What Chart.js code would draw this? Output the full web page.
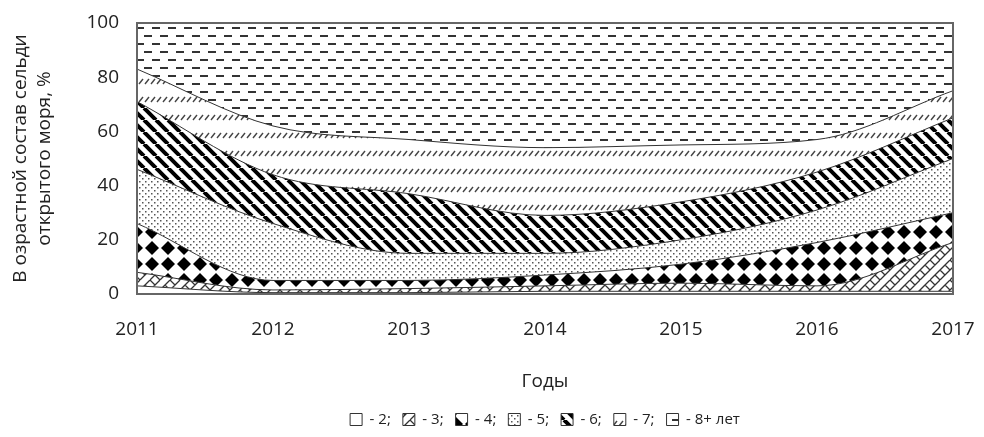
<!DOCTYPE html>
<html>
<head>
<meta charset="utf-8">
<script src="https://cdn.jsdelivr.net/npm/chart.js@4.4.1/dist/chart.umd.min.js"></script>
<style>
  body { margin: 0; background: #fff; }
  #wrap { width: 984px; height: 437px; }
</style>
</head>
<body>
<div id="wrap"><canvas id="chart"></canvas></div>
<script>
const years = ['2011', '2012', '2013', '2014', '2015', '2016', '2017']
const yTicks = [0, 20, 40, 60, 80, 100]
// доля возрастных групп, %
const age2 = [3, 0.5, 0.5, 1, 1, 1, 1]
const age3 = [5, 1, 1.5, 2, 3, 2, 18]
const age4 = [18, 3.5, 3, 4, 7, 16, 11]
const age5 = [20, 21, 10, 8, 9, 12, 20]
const age6 = [25, 18, 22, 14, 14, 14, 15]
const age7 = [12, 18, 20, 25, 21, 12, 10]
const age8 = [17, 38, 43, 46, 45, 43, 25]
const labels = ['- 2;', '- 3;', '- 4;', '- 5;', '- 6;', '- 7;', '- 8+ лет']

function makePattern(w, h, draw) {
  const c = document.createElement('canvas')
  c.width = w
  c.height = h
  const g = c.getContext('2d')
  g.fillStyle = '#fff'
  g.fillRect(0, 0, w, h)
  draw(g)
  return g.createPattern(c, 'repeat')
}

const pBricks = makePattern(20, 20, g => {
  g.strokeStyle = '#333'
  g.lineWidth = 1.3
  g.beginPath()
  for (let k = -1; k <= 3; k++) {
    g.moveTo(k * 10 - 20, 20)
    g.lineTo(k * 10, 0)
  }
  g.moveTo(5, 5); g.lineTo(10, 10)
  g.moveTo(15, 15); g.lineTo(20, 20)
  g.moveTo(0, 0); g.lineTo(-5, -5)
  g.moveTo(15, -5); g.lineTo(20, 0)
  g.moveTo(0, 10); g.lineTo(5, 15)
  g.moveTo(10, 0); g.lineTo(15, 5)
  g.stroke()
})

const pDiamonds = makePattern(16, 16, g => {
  g.fillStyle = '#000'
  g.beginPath()
  g.moveTo(8, 1); g.lineTo(15, 8); g.lineTo(8, 15); g.lineTo(1, 8)
  g.closePath()
  g.fill()
})

const pDots = makePattern(6, 6, g => {
  g.fillStyle = '#555'
  g.fillRect(1, 1, 1.5, 1.5)
  g.fillRect(4, 4, 1.5, 1.5)
})

const pStripes = makePattern(12, 12, g => {
  g.strokeStyle = '#000'
  g.lineWidth = 4
  g.beginPath()
  for (let k = -1; k <= 1; k++) {
    g.moveTo(k * 12, 0)
    g.lineTo(k * 12 + 12, 12)
  }
  g.stroke()
})

const pSlashes = makePattern(6, 18, g => {
  g.strokeStyle = '#444'
  g.lineWidth = 1.4
  g.beginPath()
  g.moveTo(1, 12)
  g.lineTo(5, 7)
  g.stroke()
})

const pDashes = makePattern(16, 16, g => {
  g.fillStyle = '#333'
  g.fillRect(0, 3, 8, 2)
  g.fillRect(8, 11, 8, 2)
})

const series = [age2, age3, age4, age5, age6, age7, age8]
const fills = ['#fff', pBricks, pDiamonds, pDots, pStripes, pSlashes, pDashes]

const datasets = series.map((d, i) => ({
  label: labels[i],
  data: d,
  fill: i === 0 ? 'origin' : '-1',
  backgroundColor: fills[i],
  borderColor: '#333',
  borderWidth: 1,
  pointRadius: 0,
  tension: 0.4,
  cubicInterpolationMode: 'monotone'
}))

const plotFrame = {
  id: 'plotFrame',
  afterLayout(chart) {
    // легенда по центру области графика
    const lg = chart.legend
    const a = chart.chartArea
    const dx = (a.left + a.right) / 2 - (lg.left + lg.right) / 2
    lg.left += dx
    lg.right += dx
  },
  afterDraw(chart) {
    const { ctx, chartArea: a } = chart
    ctx.save()
    ctx.strokeStyle = '#666'
    ctx.lineWidth = 2
    ctx.strokeRect(a.left, a.top, a.right - a.left, a.bottom - a.top)
    ctx.restore()
  }
}

const font = { family: 'Open Sans', size: 19 }

new Chart(document.getElementById('chart'), {
  type: 'line',
  data: { labels: years, datasets },
  options: {
    responsive: true,
    maintainAspectRatio: false,
    animation: false,
    layout: { padding: { top: 23, right: 31, left: 0, bottom: 0 } },
    plugins: {
      tooltip: { enabled: false },
      legend: {
        position: 'bottom',
        labels: {
          color: '#222',
          font: { family: 'Open Sans', size: 15 },
          boxWidth: 12,
          boxHeight: 12,
          padding: 12
        }
      }
    },
    scales: {
      x: {
        offset: false,
        grid: { display: false, drawTicks: true, tickLength: 24 },
        border: { display: false },
        ticks: { color: '#222', font, padding: 0, maxRotation: 0 },
        title: { display: true, text: 'Годы', color: '#222', font, padding: { top: 0, bottom: 7 } },
        afterFit(s) { s.height = 106 }
      },
      y: {
        stacked: true,
        min: 0,
        max: 100,
        grid: { display: false, drawTicks: true, tickLength: 18 },
        border: { display: false },
        afterBuildTicks(s) { s.ticks = yTicks.map(v => ({ value: v })) },
        ticks: { color: '#222', font, padding: 0 },
        title: {
          display: true,
          text: ['В озрастной состав сельди', 'открытого моря, %'],
          color: '#222',
          font: { family: 'Open Sans', size: 19, lineHeight: 1.25 },
          padding: { top: 9, bottom: 0 }
        },
        afterFit(s) { s.width = 137 }
      }
    }
  },
  plugins: [plotFrame]
})
</script>
</body>
</html>
